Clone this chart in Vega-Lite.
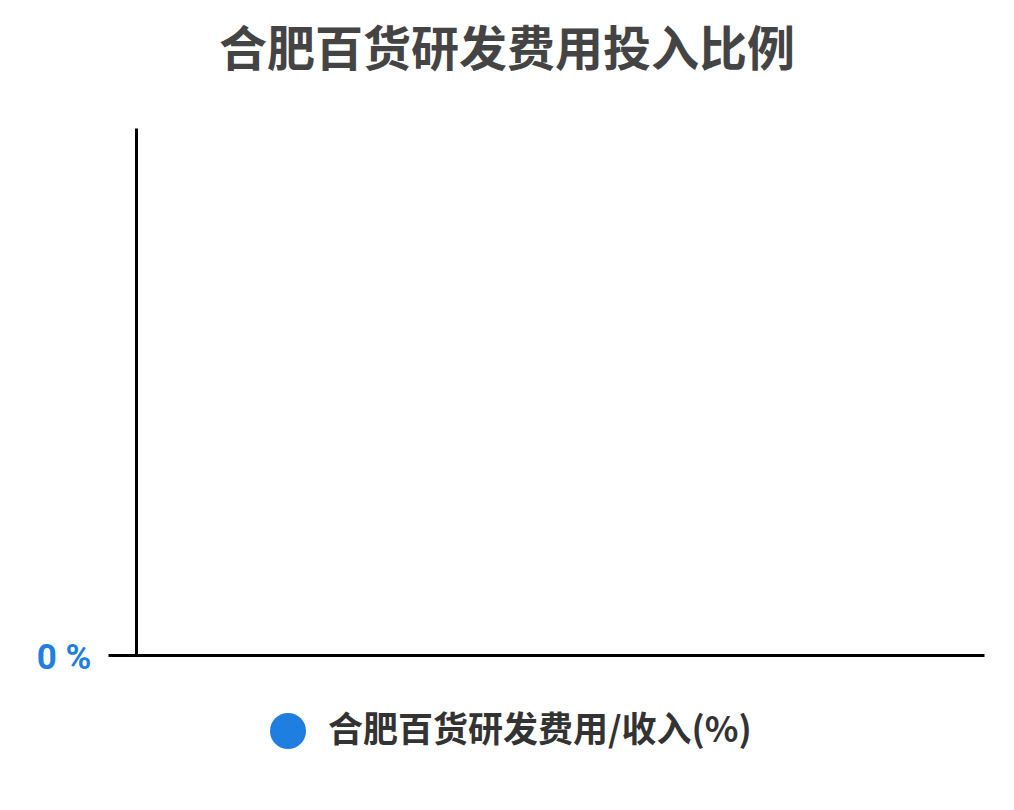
{
  "$schema": "https://vega.github.io/schema/vega-lite/v6.json",
  "autosize": {"type": "none"},
  "padding": {"left": 108, "top": 128, "right": 30, "bottom": 155},
  "width": 876,
  "height": 527,
  "background": "#ffffff",
  "title": {
    "text": "合肥百货研发费用投入比例",
    "font": "Noto Sans CJK SC",
    "fontSize": 48,
    "fontWeight": "bold",
    "color": "#444444",
    "anchor": "middle",
    "dx": -39,
    "offset": 52
  },
  "data": {
    "values": [
      {"year": "2020", "series": "合肥百货研发费用/收入(%)", "value": null}
    ]
  },
  "mark": {"type": "point", "filled": true, "shape": "circle", "size": 100, "opacity": 1},
  "encoding": {
    "x": {
      "field": "year",
      "type": "ordinal",
      "title": null,
      "axis": {"labels": false, "ticks": false, "grid": false, "domainColor": "#000000", "domainWidth": 3}
    },
    "y": {
      "field": "value",
      "type": "quantitative",
      "title": null,
      "scale": {"domain": [0, 1]},
      "axis": {
        "values": [0],
        "labelExpr": "datum.value + '  %'",
        "grid": false,
        "ticks": false,
        "tickSize": 0,
        "offset": -28,
        "labelPadding": 45,
        "labelFont": "Roboto",
        "labelFontSize": 35,
        "labelFontWeight": "bold",
        "labelColor": "#1e7fe0",
        "labelBaseline": "middle",
        "labelOffset": 2,
        "domainColor": "#000000",
        "domainWidth": 3
      }
    },
    "color": {
      "field": "series",
      "type": "nominal",
      "title": null,
      "scale": {"domain": ["合肥百货研发费用/收入(%)"], "range": ["#1e7fe0"]},
      "legend": {
        "orient": "none",
        "legendX": 162,
        "legendY": 585,
        "padding": 0,
        "symbolType": "circle",
        "symbolSize": 1296,
        "symbolOpacity": 1,
        "symbolStrokeWidth": 0,
        "labelFont": "Noto Sans CJK SC",
        "labelFontSize": 35,
        "labelFontWeight": "bold",
        "labelColor": "#333333",
        "labelOffset": 22,
        "labelLimit": 0
      }
    }
  },
  "config": {"view": {"stroke": null}}
}
